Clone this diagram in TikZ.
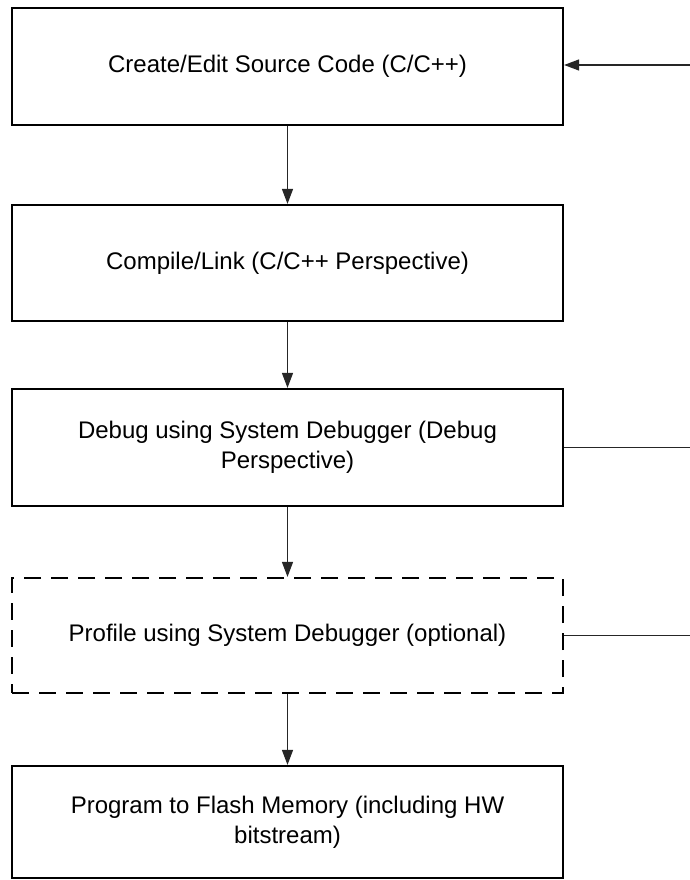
\documentclass[tikz,border=0pt]{standalone}
\usepackage{fontspec}
\setmainfont{Liberation Sans}
\usetikzlibrary{arrows.meta}
\begin{document}
\begin{tikzpicture}[x=1pt,y=-1pt,
  stepbox/.style={draw=black, line width=2.2pt, minimum width=551pt, inner sep=0pt,
    align=center, font=\fontsize{24}{30}\selectfont},
  optbox/.style={stepbox, dash pattern=on 17pt off 10pt},
  link/.style={draw=black!85, line width=1.3pt},
  flow/.style={link, -{Triangle[length=15pt,width=11pt]}}
]
\useasboundingbox (0,0) rectangle (690,880);
\node[stepbox, minimum height=117pt] (b1) at (287.5,66.5) {Create/Edit Source Code (C/C++)};
\node[stepbox, minimum height=116pt] (b2) at (287.5,263) {Compile/Link (C/C++ Perspective)};
\node[stepbox, minimum height=117pt] (b3) at (287.5,447.5) {Debug using System Debugger (Debug\\Perspective)};
\node[optbox, minimum height=115pt] (b4) at (287.5,635.5) {Profile using System Debugger (optional)};
\node[stepbox, minimum height=112pt] (b5) at (287.5,822) {Program to Flash Memory (including HW\\bitstream)};
\coordinate (in1) at (690,65);
\draw[flow] (b1) -- (b2);
\draw[flow] (b2) -- (b3);
\draw[flow] (b3) -- (b4);
\draw[flow] (b4) -- (b5);
\draw[flow] (in1) -- (b1.east |- in1);
\draw[link] (b3.east) -- (690,447.5);
\draw[link] (b4.east) -- (690,635.5);
\end{tikzpicture}
\end{document}
